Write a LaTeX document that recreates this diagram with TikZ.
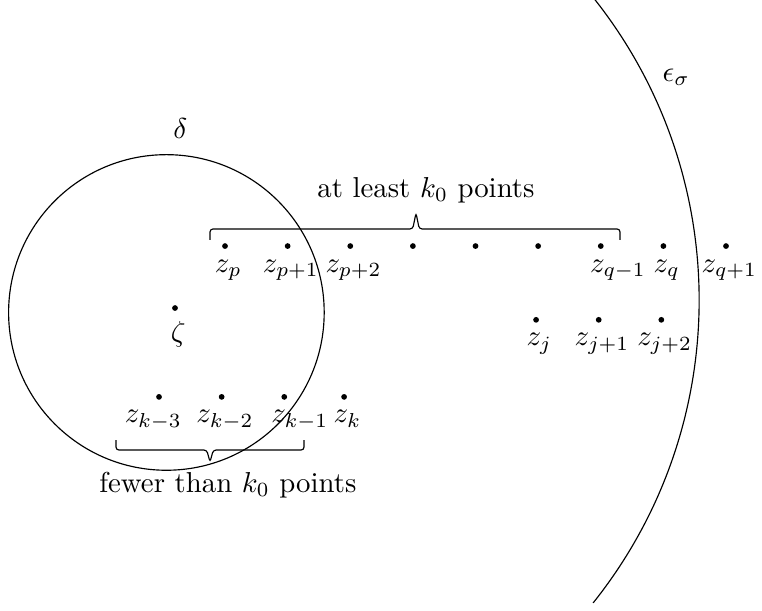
\documentclass[tikz,border=0pt]{standalone}
\usepackage{amsmath,amssymb}
\usetikzlibrary{positioning, calc}

\begin{document}
\begin{tikzpicture}[
        pnt/.style={circle, fill, inner sep=0pt, minimum size=2pt},
        brk/.style={rounded corners=1pt},
        every label/.style={xshift=0.04cm},
        node distance=0.764cm, on grid
    ]
        \useasboundingbox (0,0) rectangle (9.296,7.442);
        % the disc and the big arc
        \draw (2.03,3.63) circle (1.925);
        \draw ([shift={(-38.6:5.92)}]2.61,3.78) arc (-38.6:38.6:5.92);
        \node (delta) at (2.2,5.88) {$\delta$};
        \node (eps) at (8.25,6.5) {$\epsilon_\sigma$};

        \node[pnt, label=below:$\zeta$] (zeta) at (2.135,3.684) {};

        % top row
        \node[pnt, label=below:$z_p$] (zp) at (2.745,4.44) {};
        \node[pnt, right=of zp, label=below:$z_{p+1}$] (zp1) {};
        \node[pnt, right=of zp1, label=below:$z_{p+2}$] (zp2) {};
        \node[pnt, right=of zp2] (m1) {};
        \node[pnt, right=of m1] (m2) {};
        \node[pnt, right=of m2] (m3) {};
        \node[pnt, right=of m3, label={[xshift=0.17cm]below:$z_{q-1}$}] (zq1) {};
        \node[pnt, right=of zq1, label=below:$z_q$] (zq) {};
        \node[pnt, right=of zq, label=below:$z_{q+1}$] (zq2) {};

        % second row
        \node[pnt, label=below:$z_j$] (zj) at (6.54,3.54) {};
        \node[pnt, right=of zj, label=below:$z_{j+1}$] (zj1) {};
        \node[pnt, right=of zj1, label=below:$z_{j+2}$] (zj2) {};

        % bottom row
        \node[pnt, label={[xshift=-0.11cm]below:$z_{k-3}$}] (zk3) at (1.94,2.6) {};
        \node[pnt, right=of zk3, label=below:$z_{k-2}$] (zk2) {};
        \node[pnt, right=of zk2, label={[xshift=0.15cm]below:$z_{k-1}$}] (zk1) {};
        \node[pnt, right=0.73cm of zk1, label=below:$z_k$] (zk) {};

        % braces
        \draw[brk] ($(zp)+(-0.183,0.074)$) -- ++(0,0.134) -- ++(2.473,0)
            -- ++(0.04,0.195) -- ++(0.04,-0.195) -- ++(2.449,0) -- ++(0,-0.134);
        \node (most) at (5.197,5.124) {at least $k_0$ points};
        \draw[brk] ($(zk3)+(-0.525,-0.526)$) -- ++(0,-0.122) -- ++(1.107,0)
            -- ++(0.04,-0.146) -- ++(0.04,0.146) -- ++(1.107,0) -- ++(0,0.122);
        \node (few) at (2.78,1.525) {fewer than $k_0$ points};
    \end{tikzpicture}
\end{document}
